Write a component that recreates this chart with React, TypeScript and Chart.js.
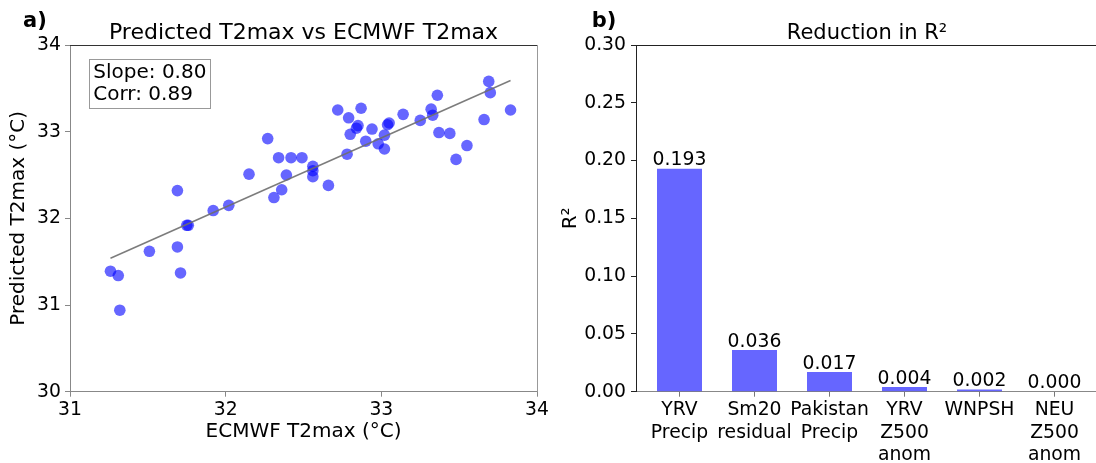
import React, { useEffect, useRef } from "react";
import { Chart, registerables } from "chart.js";

Chart.register(...registerables);

const FONT = "'DejaVu Sans', Verdana, sans-serif";

// Panel a) data
const ecmwfT2max = [
  31.26, 31.31, 31.32, 31.51, 31.69, 31.69, 31.71, 31.75, 31.76, 31.92,
  32.02, 32.15, 32.27, 32.31, 32.34, 32.36, 32.39, 32.42, 32.49, 32.56,
  32.56, 32.56, 32.66, 32.72, 32.78, 32.79, 32.8, 32.85, 32.84, 32.87,
  32.9, 32.94, 32.98, 33.02, 33.02, 33.05, 33.04, 33.14, 33.25, 33.32,
  33.33, 33.36, 33.37, 33.44, 33.48, 33.55, 33.66, 33.69, 33.7, 33.83,
];
const predictedT2max = [
  31.39, 31.34, 30.94, 31.62, 32.32, 31.67, 31.37, 31.92, 31.92, 32.09,
  32.15, 32.51, 32.92, 32.24, 32.7, 32.33, 32.5, 32.7, 32.7, 32.6,
  32.55, 32.48, 32.38, 33.25, 32.74, 33.16, 32.97, 33.07, 33.04, 33.27,
  32.89, 33.03, 32.86, 32.8, 32.96, 33.1, 33.08, 33.2, 33.13, 33.26,
  33.19, 33.42, 32.99, 32.98, 32.68, 32.84, 33.14, 33.58, 33.45, 33.25,
];
const fitX = [31.26, 33.83];
const fitY = [31.54, 33.59];
const xTicksA = [31, 32, 33, 34];
const yTicksA = [30, 31, 32, 33, 34];
const statsLines = ["Slope: 0.80", "Corr: 0.89"];

// Panel b) data
const predictors = [
  ["YRV", "Precip"],
  ["Sm20", "residual"],
  ["Pakistan", "Precip"],
  ["YRV", "Z500", "anom"],
  ["WNPSH"],
  ["NEU", "Z500", "anom"],
];
const r2Reduction = [0.193, 0.036, 0.017, 0.004, 0.002, 0.0];
const yTicksB = [0, 0.05, 0.1, 0.15, 0.2, 0.25, 0.3];

const tickFont = { family: FONT, size: 18.8 };
const labelFont = { family: FONT, size: 20 };

const panelPlugin = {
  id: "panel",
  afterDraw(chart: any, _args: any, opts: any) {
    const { ctx, chartArea } = chart;
    const { left, right, top, bottom } = chartArea;
    ctx.save();
    // top spine
    ctx.strokeStyle = opts.topColor;
    ctx.lineWidth = 1;
    ctx.beginPath();
    ctx.moveTo(left, Math.round(top) + 0.5);
    ctx.lineTo(right, Math.round(top) + 0.5);
    ctx.stroke();
    if (opts.rightColor) {
      ctx.strokeStyle = opts.rightColor;
      ctx.beginPath();
      ctx.moveTo(Math.round(right) + 0.5, top);
      ctx.lineTo(Math.round(right) + 0.5, bottom);
      ctx.stroke();
    }
    // title
    ctx.fillStyle = "#000";
    ctx.font = `${opts.titleSize}px ${FONT}`;
    ctx.textAlign = "center";
    ctx.textBaseline = "alphabetic";
    ctx.fillText(opts.title, (left + right) / 2, top - 6.5);
    // panel letter
    ctx.font = `bold 21px ${FONT}`;
    ctx.textAlign = "left";
    ctx.fillText(opts.letter, opts.letterX, 27);
    // stats box
    if (opts.stats) {
      ctx.strokeStyle = "#999";
      ctx.lineWidth = 1;
      ctx.fillStyle = "#fff";
      const bx = Math.round(left + 19.3) + 0.5;
      const by = Math.round(top + 14) + 0.5;
      ctx.fillRect(bx, by, 121, 49);
      ctx.strokeRect(bx, by, 121, 49);
      ctx.fillStyle = "#000";
      ctx.font = `20px ${FONT}`;
      ctx.fillText(opts.stats[0], left + 23.3, top + 32.7);
      ctx.fillText(opts.stats[1], left + 23.3, top + 55);
    }
    ctx.restore();
  },
  afterDatasetsDraw(chart: any, _args: any, opts: any) {
    if (!opts.barLabels) return;
    const { ctx } = chart;
    const meta = chart.getDatasetMeta(0);
    ctx.save();
    ctx.fillStyle = "#000";
    ctx.font = `18.8px ${FONT}`;
    ctx.textAlign = "center";
    ctx.textBaseline = "alphabetic";
    meta.data.forEach((bar: any, i: number) => {
      ctx.fillText(opts.barLabels[i].toFixed(3), bar.x, bar.y - 3.5);
    });
    ctx.restore();
  },
};

export default function App() {
  const refA = useRef<HTMLCanvasElement>(null);
  const refB = useRef<HTMLCanvasElement>(null);

  useEffect(() => {
    const chartA = new Chart(refA.current!, {
      type: "scatter",
      data: {
        datasets: [
          {
            type: "line",
            data: fitX.map((x, i) => ({ x, y: fitY[i] })),
            borderColor: "rgba(110,110,110,0.9)",
            borderWidth: 1.5,
            pointRadius: 0,
            fill: false,
          } as any,
          {
            data: ecmwfT2max.map((x, i) => ({ x, y: predictedT2max[i] })),
            backgroundColor: "rgba(0,0,255,0.6)",
            borderWidth: 0,
            pointRadius: 5.8,
            pointHoverRadius: 5.8,
          },
        ],
      },
      options: {
        animation: false,
        responsive: false,
        events: [],
        layout: { padding: { top: 45, right: 23, left: 0, bottom: 0 } },
        plugins: {
          legend: { display: false },
          tooltip: { enabled: false },
          panel: {
            title: "Predicted T2max vs ECMWF T2max",
            titleSize: 22,
            letter: "a)",
            letterX: 23,
            topColor: "#333",
            rightColor: "#999",
            stats: statsLines,
          },
        } as any,
        scales: {
          x: {
            type: "linear",
            min: 31,
            max: 34,
            afterBuildTicks: (s: any) => {
              s.ticks = xTicksA.map((v) => ({ value: v }));
            },
            afterFit: (s: any) => {
              s.height = 71.3;
            },
            ticks: { font: tickFont, color: "#000", padding: 2.5, maxRotation: 0, autoSkip: false },
            grid: { drawOnChartArea: false, tickLength: 5, color: "#888", offset: false },
            border: { color: "#888", width: 1 },
            title: {
              display: true,
              text: "ECMWF T2max (°C)",
              font: labelFont,
              color: "#000",
              padding: { top: 0, bottom: 19 },
            },
          },
          y: {
            type: "linear",
            min: 30,
            max: 34,
            afterBuildTicks: (s: any) => {
              s.ticks = yTicksA.map((v) => ({ value: v }));
            },
            afterFit: (s: any) => {
              s.width = 70;
            },
            ticks: { font: tickFont, color: "#000", padding: 4, autoSkip: false },
            grid: { drawOnChartArea: false, tickLength: 5, color: "#888" },
            border: { color: "#888", width: 1 },
            title: {
              display: true,
              text: "Predicted T2max (°C)",
              font: labelFont,
              color: "#000",
              padding: { top: 7, bottom: 0 },
            },
          },
        },
      },
      plugins: [panelPlugin],
    });

    const chartB = new Chart(refB.current!, {
      type: "bar",
      data: {
        datasets: [
          {
            data: r2Reduction.map((y, i) => ({ x: i, y })),
            backgroundColor: "rgba(0,0,255,0.6)",
            borderWidth: 0,
            barPercentage: 0.6,
            categoryPercentage: 1,
          } as any,
        ],
      },
      options: {
        animation: false,
        responsive: false,
        events: [],
        layout: { padding: { top: 45, right: 10, left: 0, bottom: 0 } },
        plugins: {
          legend: { display: false },
          tooltip: { enabled: false },
          panel: {
            title: "Reduction in R²",
            titleSize: 21,
            letter: "b)",
            letterX: 43.7,
            topColor: "#222",
            barLabels: r2Reduction,
          },
        } as any,
        scales: {
          x: {
            type: "linear",
            min: -0.58,
            max: 5.58,
            offset: false,
            afterBuildTicks: (s: any) => {
              s.ticks = predictors.map((_, i) => ({ value: i }));
            },
            afterFit: (s: any) => {
              s.height = 71.3;
            },
            ticks: {
              font: tickFont,
              color: "#000",
              padding: 2.5,
              maxRotation: 0,
              autoSkip: false,
              callback: (v: any) => predictors[Math.round(Number(v))],
            },
            grid: { drawOnChartArea: false, tickLength: 5, color: "#777", offset: false },
            border: { color: "#888", width: 1 },
          },
          y: {
            type: "linear",
            min: 0,
            max: 0.3,
            afterBuildTicks: (s: any) => {
              s.ticks = yTicksB.map((v) => ({ value: v }));
            },
            afterFit: (s: any) => {
              s.width = 88;
            },
            ticks: {
              font: tickFont,
              color: "#000",
              padding: 5,
              autoSkip: false,
              callback: (v: any) => Number(v).toFixed(2),
            },
            grid: { drawOnChartArea: false, tickLength: 5, color: "#222" },
            border: { color: "#222", width: 1 },
            title: {
              display: true,
              text: "R²",
              font: labelFont,
              color: "#000",
              padding: { top: 11, bottom: 0 },
            },
          },
        },
      },
      plugins: [panelPlugin],
    });

    return () => {
      chartA.destroy();
      chartB.destroy();
    };
  }, []);

  return (
    <div
      style={{
        position: "fixed",
        left: 0,
        top: 0,
        width: 1096,
        height: 463,
        overflow: "hidden",
        background: "#fff",
      }}
    >
      <canvas
        ref={refA}
        width={560}
        height={463}
        style={{ position: "absolute", left: 0, top: 0, width: 560, height: 463 }}
      />
      <canvas
        ref={refB}
        width={560}
        height={463}
        style={{ position: "absolute", left: 548, top: 0, width: 560, height: 463 }}
      />
    </div>
  );
}
